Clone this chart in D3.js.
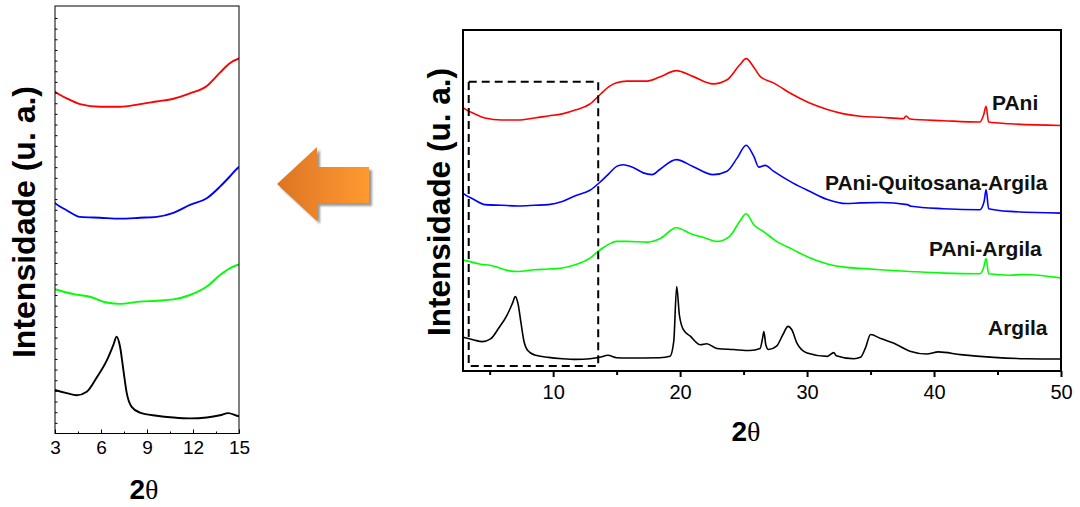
<!DOCTYPE html>
<html>
<head>
<meta charset="utf-8">
<script src="https://cdn.jsdelivr.net/npm/d3@7"></script>
<style>
  body { margin: 0; background: #fff; }
  svg { display: block; font-family: "Liberation Sans", Arial, sans-serif; }
</style>
</head>
<body>
<div id="chart"></div>
<script>
// series values: [2theta, intensity (a.u.)]
var pani = [
  [2.9,77.2],[3.07,76.8],[3.76,75.5],[4.63,74.2],[5.94,73.6],[7.24,73.6],[8.54,74.2],[9.63,74.8],
  [10.72,75.4],[11.8,76.6],[12.9,78.3],[13.76,81.3],[14.4,83.4],[15.0,84.5],[15.8,85.0],[17.4,85.0],
  [18.4,86.2],[19.7,88.1],[21.0,86.4],[22.6,84.2],[23.7,85.4],[24.7,89.8],[25.2,91.6],[25.8,89.1],
  [26.3,86.4],[27.35,84.5],[28.9,81.0],[30.2,78.6],[31.6,76.7],[32.9,75.4],[34.2,74.7],[35.8,74.4],
  [37.6,74.0],[37.8,74.8],[38.1,73.9],[40.75,73.4],[43.6,73.0],[43.9,75.0],[44.1,77.6],[44.3,73.0],
  [46.0,72.5],[50,72.0]
];
var paniQuitosanaArgila = [
  [2.9,52.2],[3.0,51.9],[3.76,50.3],[4.63,48.8],[5.94,48.6],[7.24,48.4],[8.54,48.6],[9.63,48.8],
  [10.72,49.7],[11.8,51.5],[12.9,53.0],[13.76,55.6],[14.4,57.9],[15.0,60.0],[15.5,60.5],[16.3,59.7],
  [17.1,58.1],[17.8,57.6],[18.4,59.1],[19.7,62.0],[21.0,60.0],[22.6,57.6],[23.7,58.6],[24.5,62.5],
  [25.2,66.2],[25.8,63.0],[26.2,59.8],[26.7,60.3],[27.35,58.6],[28.9,55.1],[30.2,52.7],[31.6,50.3],
  [33.1,49.1],[34.2,49.3],[35.8,49.4],[37.9,48.8],[38.2,48.3],[40.75,47.6],[43.6,47.3],[43.95,49.8],
  [44.1,53.2],[44.3,47.6],[46.0,46.8],[50,46.3]
];
var paniArgila = [
  [2.9,32.6],[3.0,32.5],[4.2,31.4],[5.28,30.8],[6.37,29.5],[7.24,29.2],[8.54,29.7],[9.63,29.9],
  [10.72,30.2],[11.8,31.2],[12.9,33.1],[13.76,35.7],[14.4,37.2],[15.0,38.0],[15.8,38.0],[17.4,37.8],
  [18.4,38.8],[19.7,42.0],[21.0,40.0],[21.8,39.2],[22.9,38.0],[23.9,39.5],[24.7,43.9],[25.2,46.1],
  [25.8,42.9],[26.6,40.8],[27.6,38.0],[28.9,35.6],[30.2,33.2],[31.6,31.4],[33.1,30.4],[34.2,30.1],
  [35.8,29.7],[38.1,29.2],[40.75,28.7],[43.6,28.5],[43.9,30.2],[44.1,33.0],[44.3,28.5],[46.0,28.1],
  [47.05,28.3],[50,27.3]
];
var argila = [
  [2.9,9.9],[3.0,9.8],[3.76,9.1],[4.41,8.6],[5.07,9.4],[5.72,12.6],[6.37,16.4],[6.8,19.9],[7.02,21.8],
  [7.24,19.6],[7.46,14.3],[7.68,9.1],[8.0,6.0],[8.54,4.7],[9.63,4.0],[10.72,3.6],[11.8,3.4],[12.9,3.6],
  [13.76,4.1],[14.3,4.6],[15.0,3.9],[15.8,3.8],[18.4,3.9],[19.2,4.3],[19.5,8.7],[19.73,24.8],[19.94,16.5],
  [20.26,12.1],[20.8,10.2],[21.6,7.7],[22.1,8.0],[22.9,6.6],[24.2,6.3],[25.5,6.0],[26.3,6.6],[26.5,9.7],
  [26.6,11.6],[26.75,7.7],[26.96,6.3],[27.6,7.3],[28.1,10.7],[28.5,13.1],[28.8,12.1],[29.2,8.2],[30.0,5.3],
  [31.6,4.3],[32.1,5.4],[32.3,4.5],[33.7,3.6],[34.2,4.0],[34.6,6.8],[35.0,10.7],[35.8,9.5],[36.8,8.2],
  [38.1,5.8],[39.4,5.0],[40.35,5.6],[42.1,4.8],[44.7,4.0],[47.3,3.6],[50,3.5]
];

var seriesNames = ["PAni", "PAni-Quitosana-Argila", "PAni-Argila", "Argila"];
var seriesColors = ["#ff0000", "#0000ff", "#00ff00", "#000000"];
var seriesData = [pani, paniQuitosanaArgila, paniArgila, argila];

// tick labels
var mainTicks = [10, 20, 30, 40, 50];
var mainMinorTicks = [5, 15, 25, 35, 45];
var zoomTicks = [3, 6, 9, 12, 15];
var zoomMinorTicks = [4.5, 7.5, 10.5, 13.5];

// dashed box marking the zoomed region (data units)
var zoomBox = { x0: 3.35, x1: 13.55, y0: 1.5, y1: 84.8 };

var W = 1080, H = 507;
var svg = d3.select("#chart").append("svg").attr("width", W).attr("height", H);

var defs = svg.append("defs");

// ---------- left (zoom) panel ----------
var zx = d3.scaleLinear().domain([3, 15]).range([55, 239]);
var zy = d3.scaleLinear().domain([0, 96.3]).range([433.5, 6]);

defs.append("clipPath").attr("id", "clipZoom")
  .append("rect").attr("x", 55).attr("y", 6).attr("width", 184).attr("height", 427.5);

var zoomLine = d3.line()
  .x(function(d){ return zx(d[0]); })
  .y(function(d){ return zy(d[1]); })
  .curve(d3.curveMonotoneX);

var gz = svg.append("g");
gz.append("g").attr("clip-path", "url(#clipZoom)")
  .selectAll("path").data(seriesData).enter().append("path")
  .attr("d", zoomLine)
  .attr("fill", "none")
  .attr("stroke", function(d, i){ return seriesColors[i]; })
  .attr("stroke-width", 1.9);

// frame
gz.append("rect").attr("x", 55).attr("y", 6).attr("width", 184).attr("height", 427.5)
  .attr("fill", "none").attr("stroke", "#000").attr("stroke-width", 1);

// x axis: ticks point inward
var zAxis = gz.append("g").attr("transform", "translate(0,433.5)")
  .call(d3.axisBottom(zx).tickValues(zoomTicks).tickSize(-4).tickPadding(7).tickFormat(d3.format("d")));
zAxis.select(".domain").remove();
zAxis.selectAll("text")
  .style("font-size", "19px").style("font-family", "Liberation Sans, Arial").attr("fill", "#000");
gz.append("g").attr("transform", "translate(0,433.5)")
  .call(d3.axisBottom(zx).tickValues(zoomMinorTicks).tickSize(-2).tickFormat(""))
  .select(".domain").remove();

// y axis: small inward minor ticks
var zy2 = gz.append("g").attr("transform", "translate(55,0)")
  .call(d3.axisLeft(zy).tickValues(d3.range(2.4, 96, 2.4)).tickSize(-2.5).tickFormat(""));
zy2.select(".domain").remove();

gz.append("text")
  .attr("transform", "translate(35,222) rotate(-90)")
  .attr("text-anchor", "middle")
  .attr("font-size", 32).attr("font-weight", "bold")
  .text("Intensidade (u. a.)");

var zt = gz.append("text").attr("x", 144).attr("y", 499).attr("text-anchor", "middle")
  .attr("font-size", 28).attr("font-weight", "bold");
zt.append("tspan").text("2");
zt.append("tspan").attr("font-family", "Liberation Serif, Times New Roman, serif").attr("font-weight", "normal").text("θ");

// ---------- arrow ----------
var grad = defs.append("linearGradient").attr("id", "arrowGrad")
  .attr("x1", "0%").attr("x2", "100%").attr("y1", "0%").attr("y2", "0%");
grad.append("stop").attr("offset", "0%").attr("stop-color", "#dc7424");
grad.append("stop").attr("offset", "100%").attr("stop-color", "#ff9a30");

var blur = defs.append("filter").attr("id", "shadowBlur");
blur.append("feGaussianBlur").attr("stdDeviation", 1.2);

var arrowPts = [[277,184],[317,147],[317,167],[369,167],[369,203],[317,203],[317,221]];
var arrowPath = "M" + arrowPts.map(function(p){ return p.join(","); }).join("L") + "Z";
svg.append("path").attr("d", arrowPath).attr("transform", "translate(3,3)")
  .attr("fill", "#9a9a9a").attr("filter", "url(#shadowBlur)");
svg.append("path").attr("d", arrowPath).attr("fill", "url(#arrowGrad)");

// ---------- right (main) panel ----------
var x = d3.scaleLinear().domain([2.9, 50]).range([463, 1061]);
var y = d3.scaleLinear().domain([0, 100]).range([371, 30]);

defs.append("clipPath").attr("id", "clipMain")
  .append("rect").attr("x", 463).attr("y", 30).attr("width", 598).attr("height", 341);

var mainLine = d3.line()
  .x(function(d){ return x(d[0]); })
  .y(function(d){ return y(d[1]); })
  .curve(d3.curveMonotoneX);

var gm = svg.append("g");
gm.append("g").attr("clip-path", "url(#clipMain)")
  .selectAll("path").data(seriesData).enter().append("path")
  .attr("d", mainLine)
  .attr("fill", "none")
  .attr("stroke", function(d, i){ return seriesColors[i]; })
  .attr("stroke-width", 1.6);

// dashed zoom box
gm.append("rect")
  .attr("x", x(zoomBox.x0)).attr("y", y(zoomBox.y1))
  .attr("width", x(zoomBox.x1) - x(zoomBox.x0))
  .attr("height", y(zoomBox.y0) - y(zoomBox.y1))
  .attr("fill", "none").attr("stroke", "#000").attr("stroke-width", 2)
  .attr("stroke-dasharray", "8,5");

// frame
gm.append("rect").attr("x", 463).attr("y", 30).attr("width", 598).attr("height", 341)
  .attr("fill", "none").attr("stroke", "#000").attr("stroke-width", 2);

var mAxis = gm.append("g").attr("transform", "translate(0,371)")
  .call(d3.axisBottom(x).tickValues(mainTicks).tickSize(6).tickPadding(8).tickFormat(d3.format("d")));
mAxis.select(".domain").remove();
mAxis.selectAll("line").attr("stroke-width", 2);
mAxis.selectAll("text")
  .style("font-size", "20px").style("font-family", "Liberation Sans, Arial").attr("fill", "#000");
var mMinor = gm.append("g").attr("transform", "translate(0,371)")
  .call(d3.axisBottom(x).tickValues(mainMinorTicks).tickSize(4).tickFormat(""));
mMinor.select(".domain").remove();
mMinor.selectAll("line").attr("stroke-width", 2);

gm.append("text")
  .attr("transform", "translate(450,202) rotate(-90)")
  .attr("text-anchor", "middle")
  .attr("font-size", 31.5).attr("font-weight", "bold")
  .text("Intensidade (u. a.)");

var mt = gm.append("text").attr("x", 746).attr("y", 441).attr("text-anchor", "middle")
  .attr("font-size", 28).attr("font-weight", "bold");
mt.append("tspan").text("2");
mt.append("tspan").attr("font-family", "Liberation Serif, Times New Roman, serif").attr("font-weight", "normal").text("θ");

// series labels
var labelX = [992, 825, 929, 988];
var labelY = [110, 190, 255.5, 335];
gm.selectAll(".series-label").data(seriesNames).enter().append("text")
  .attr("class", "series-label")
  .attr("x", function(d, i){ return labelX[i]; })
  .attr("y", function(d, i){ return labelY[i]; })
  .attr("font-size", 21).attr("font-weight", "bold").attr("fill", "#111")
  .text(function(d){ return d; });
</script>
</body>
</html>
